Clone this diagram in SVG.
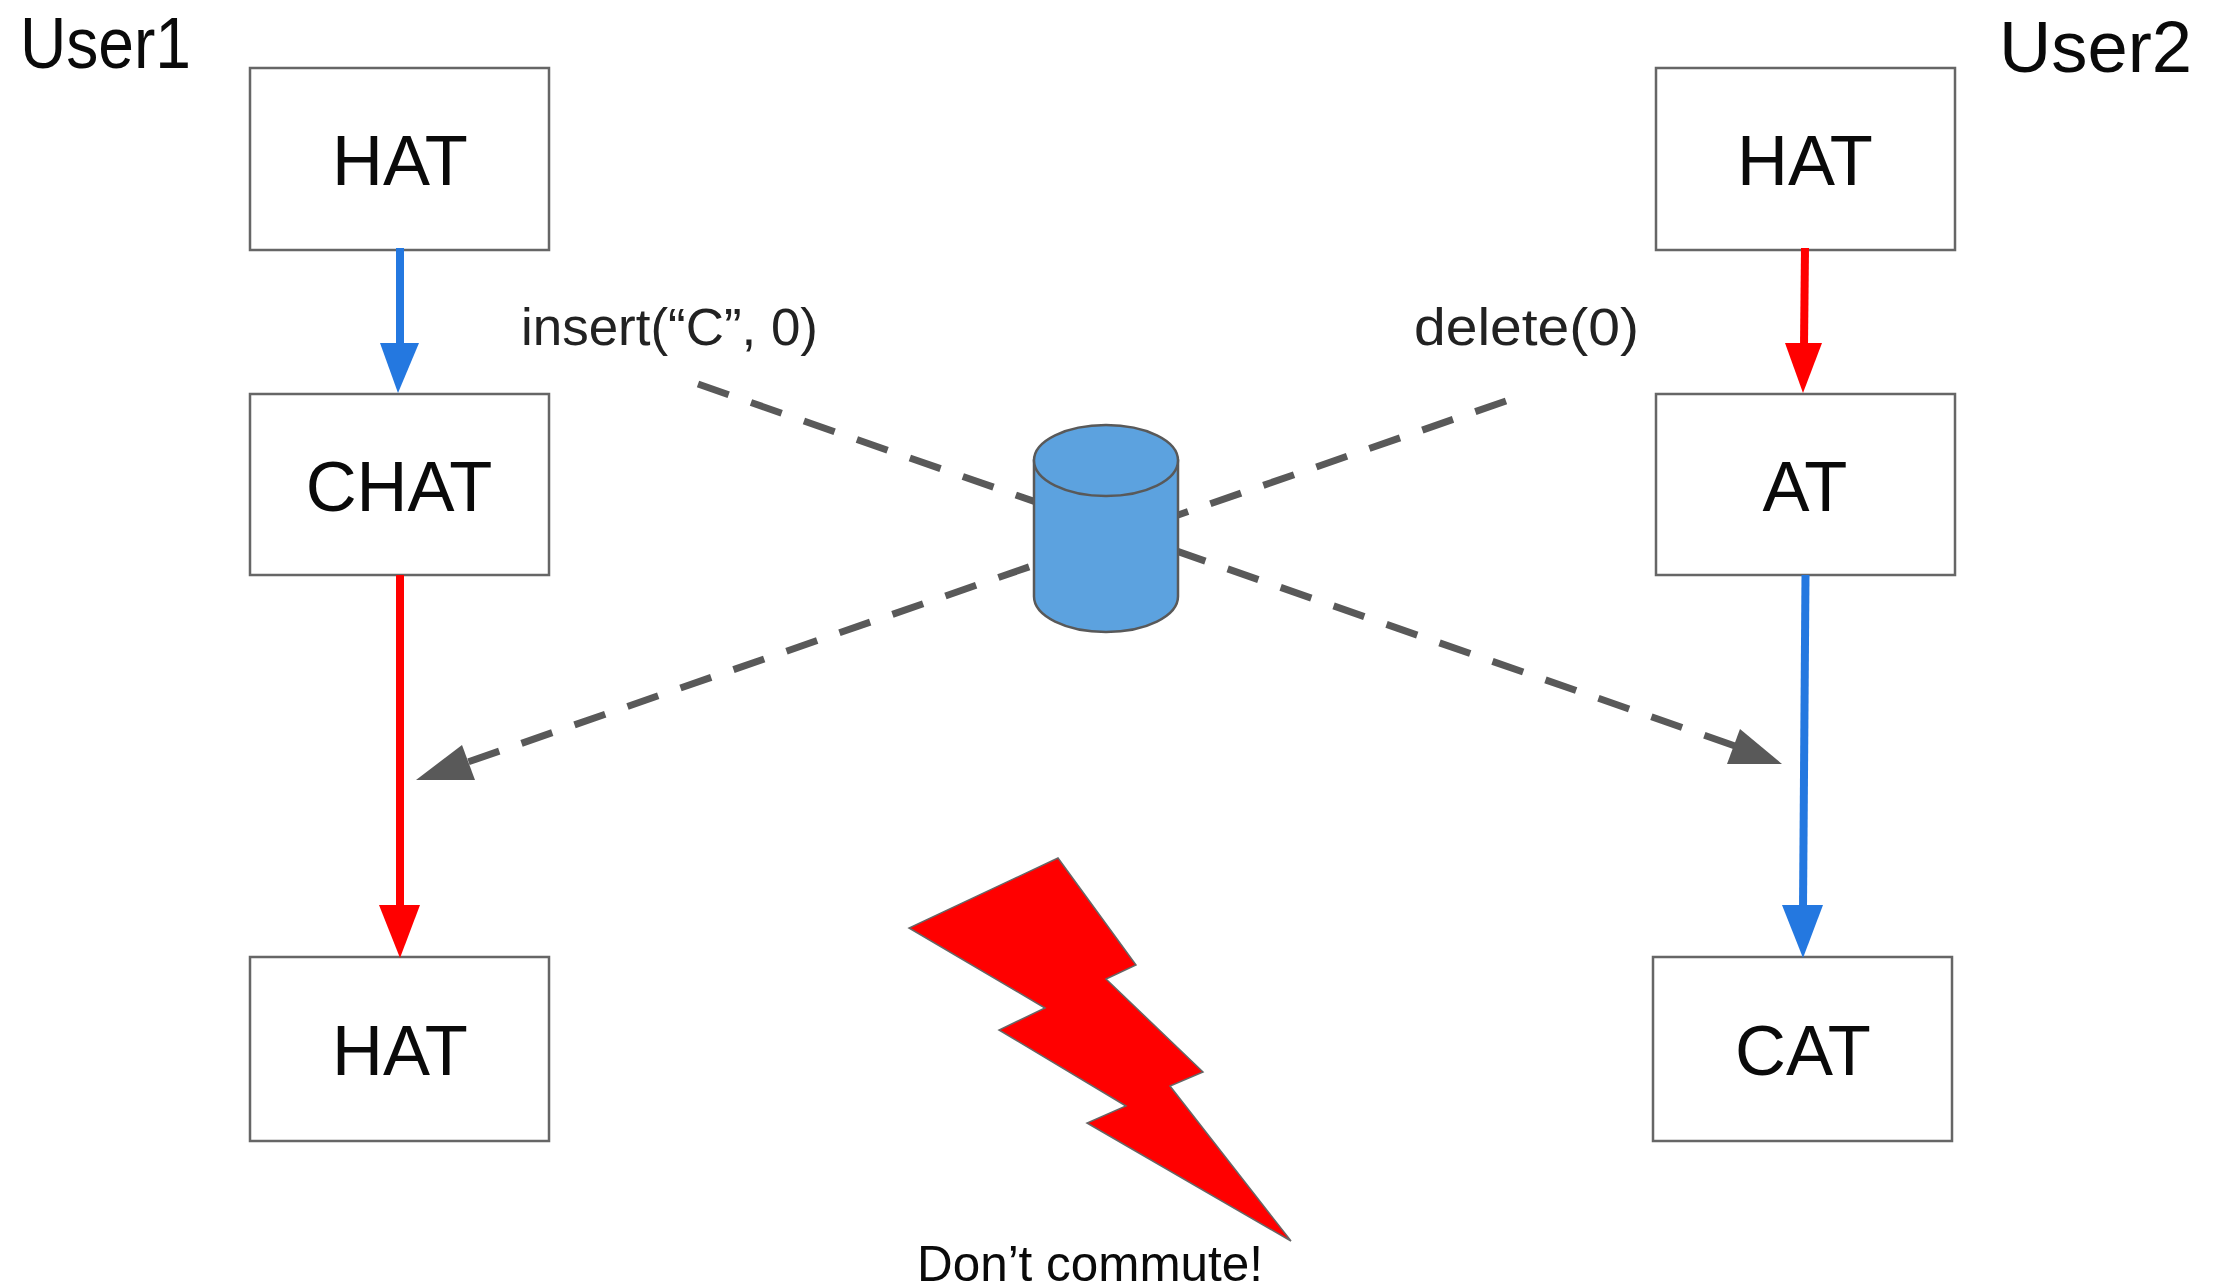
<svg xmlns="http://www.w3.org/2000/svg" width="2215" height="1284" viewBox="0 0 2215 1284">
<style>
text{font-family:"Liberation Sans",Arial,sans-serif;fill:#0a0a0a}
.big{font-size:70.5px}
.usr{font-size:72px}
.mid{font-size:51px;fill:#222}
.c{text-anchor:middle}
.box{fill:#fff;stroke:#666;stroke-width:2.5}
.flow{fill:none;stroke-width:8}
.dash{fill:none;stroke:#595959;stroke-width:7;stroke-dasharray:32.5 23.6}
.cyl{fill:#5ca2df;stroke:#595959;stroke-width:2.5}
</style>
<rect width="2215" height="1284" fill="#fff"/>
<g id="label-user1"><text class="usr" x="20" y="68" textLength="171" lengthAdjust="spacingAndGlyphs">User1</text></g>
<g id="label-user2"><text class="usr" x="1999" y="72" textLength="193" lengthAdjust="spacingAndGlyphs">User2</text></g>
<g id="node-u1-hat"><rect class="box" x="250" y="68" width="299" height="182"/><text class="big c" x="400" y="185">HAT</text></g>
<g id="node-u1-chat"><rect class="box" x="250" y="394" width="299" height="181"/><text class="big c" x="399" y="511">CHAT</text></g>
<g id="node-u1-hat2"><rect class="box" x="250" y="957" width="299" height="184"/><text class="big c" x="400" y="1075">HAT</text></g>
<g id="node-u2-hat"><rect class="box" x="1656" y="68" width="299" height="182"/><text class="big c" x="1805" y="185">HAT</text></g>
<g id="node-u2-at"><rect class="box" x="1656" y="394" width="299" height="181"/><text class="big c" x="1805" y="511">AT</text></g>
<g id="node-u2-cat"><rect class="box" x="1653" y="957" width="299" height="184"/><text class="big c" x="1803" y="1075">CAT</text></g>
<g id="connectors">
<line class="flow" stroke="#2478e0" x1="400" y1="248" x2="400" y2="346"/>
<polygon fill="#2478e0" points="380,343 419,343 398,393"/>
<line class="flow" stroke="#f00" x1="400" y1="575" x2="400" y2="908"/>
<polygon fill="#f00" points="379,905 420,905 400,958"/>
<line class="flow" stroke="#f00" x1="1805" y1="248" x2="1804" y2="346"/>
<polygon fill="#f00" points="1785,343 1822,343 1803,393"/>
<line class="flow" stroke="#2478e0" x1="1805.5" y1="575" x2="1803" y2="908"/>
<polygon fill="#2478e0" points="1782,905 1823,905 1803,958"/>
<line class="dash" x1="698" y1="384" x2="1735" y2="746"/>
<polygon fill="#595959" points="1740,729 1782,764 1727,764"/>
<line class="dash" x1="1506" y1="401" x2="465" y2="763"/>
<polygon fill="#595959" points="416,780 462,745 475,780"/>
</g>
<g id="node-database">
<path class="cyl" d="M1034 460.5V596.5A72 35.5 0 0 0 1178 596.5V460.5Z"/>
<ellipse class="cyl" cx="1106" cy="460.5" rx="72" ry="35.5"/>
</g>
<g id="label-insert"><text class="mid" x="521" y="345" textLength="297" lengthAdjust="spacingAndGlyphs">insert(“C”, 0)</text></g>
<g id="label-delete"><text class="mid" x="1414" y="345" textLength="225" lengthAdjust="spacingAndGlyphs">delete(0)</text></g>
<g id="node-bolt"><polygon fill="#f00" stroke="#666" stroke-width="1.5" points="1058,858 1136,965 1106,979 1203,1072 1170,1086 1291,1241 1087,1123 1126,1106 999,1030 1045,1008 909,928"/></g>
<g id="label-commute"><text x="917" y="1281" font-size="50" textLength="346" lengthAdjust="spacingAndGlyphs">Don’t commute!</text></g>
</svg>
